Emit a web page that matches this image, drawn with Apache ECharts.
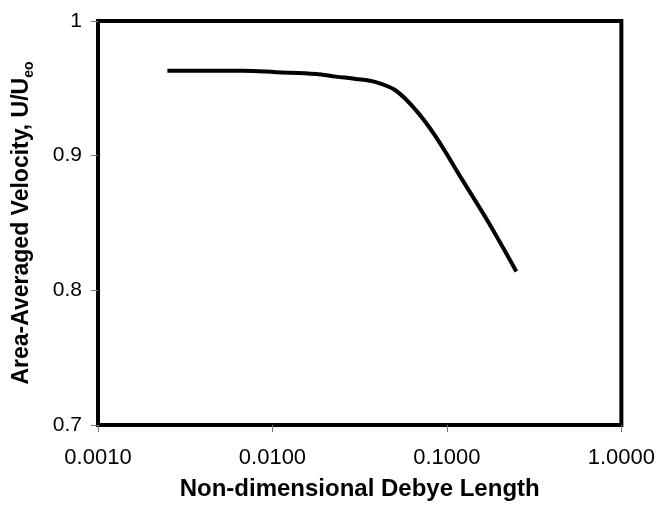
<!DOCTYPE html>
<html>
<head>
<meta charset="utf-8">
<script src="https://cdn.jsdelivr.net/npm/echarts@6/dist/echarts.min.js"></script>
<style>html,body{margin:0;padding:0;background:#fff;}#c{width:658px;height:506px;}</style>
</head>
<body>
<div id="c"></div>
<script>
var xValues = [0.0025, 0.004, 0.0068, 0.0105, 0.0178, 0.0231, 0.0300, 0.0391, 0.0509, 0.0662, 0.0861, 0.1226, 0.174, 0.25];
var yValues = [0.963, 0.963, 0.963, 0.962, 0.9607, 0.9587, 0.957, 0.9546, 0.9484, 0.934, 0.9143, 0.882, 0.850, 0.814];
var xTicks = [0.001, 0.01, 0.1, 1];
var yTicks = [0.7, 0.8, 0.9, 1];
var xTitle = 'Non-dimensional Debye Length';
var yTitleMain = 'Area-Averaged Velocity, U/U';
var yTitleSub = 'eo';

var FONT = '"Liberation Sans", Arial, Helvetica, sans-serif';
var chart = echarts.init(document.getElementById('c'), null, {renderer: 'canvas'});
var data = xValues.map(function (x, i) { return [x, yValues[i]]; });
chart.setOption({
  animation: false,
  backgroundColor: '#fff',
  grid: {left: 98, right: 35, top: 21, bottom: 80, show: true, borderColor: '#000', borderWidth: 4, backgroundColor: 'transparent'},
  xAxis: {
    type: 'log', logBase: 10, min: xTicks[0], max: xTicks[xTicks.length - 1],
    axisLine: {show: false},
    axisTick: {show: true, length: 7, lineStyle: {color: '#777', width: 1}},
    minorTick: {show: false},
    splitLine: {show: false},
    axisLabel: {margin: 22, fontSize: 22, color: '#000', fontFamily: FONT, formatter: function (v) { return Number(v).toFixed(4); }},
    name: xTitle, nameLocation: 'middle', nameGap: 52,
    nameTextStyle: {fontSize: 24, fontWeight: 'bold', color: '#000', fontFamily: FONT}
  },
  yAxis: {
    type: 'value', min: yTicks[0], max: yTicks[yTicks.length - 1], interval: 0.1,
    axisLine: {show: false},
    axisTick: {show: true, length: 7, lineStyle: {color: '#777', width: 1}},
    splitLine: {show: false},
    axisLabel: {margin: 16, fontSize: 21, color: '#000', fontFamily: FONT,
      formatter: function (v) { return String(Math.round(v * 10) / 10); }},
    name: '{a|' + yTitleMain + '}{s|' + yTitleSub + '}', nameLocation: 'middle', nameGap: 62,
    nameTextStyle: {
      rich: {
        a: {fontSize: 23, fontWeight: 'bold', color: '#000', fontFamily: FONT, lineHeight: 28},
        s: {fontSize: 14, fontWeight: 'bold', color: '#000', fontFamily: FONT, lineHeight: 28, verticalAlign: 'bottom', padding: [10, 0, 0, 0]}
      }
    }
  },
  series: [{
    type: 'line', data: data, smooth: 0.35, showSymbol: false,
    lineStyle: {color: '#000', width: 4}, z: 3
  }]
});
</script>
</body>
</html>
